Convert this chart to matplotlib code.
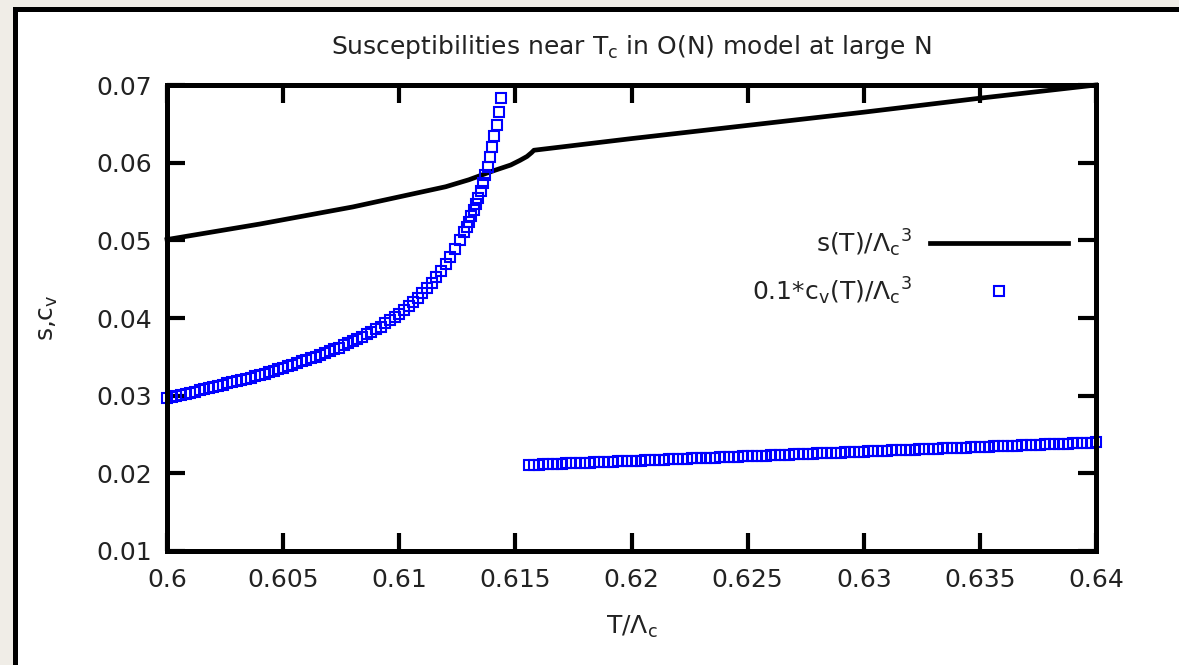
import matplotlib
matplotlib.use("Agg")
import matplotlib.pyplot as plt
from matplotlib.patches import Rectangle
from matplotlib.lines import Line2D

# s(T)/Lambda_c^3
s_T = [0.6000, 0.6020, 0.6040, 0.6060, 0.6080, 0.6100, 0.6120, 0.6130, 0.6140, 0.6148,
       0.6152, 0.6155, 0.6157, 0.6158, 0.6200, 0.6250, 0.6300, 0.6350, 0.6400]
s_val = [0.0501, 0.0511, 0.0521, 0.0532, 0.0543, 0.0556, 0.0569, 0.0578, 0.0589, 0.0597,
         0.0603, 0.0608, 0.0613, 0.0616, 0.0631, 0.0648, 0.0665, 0.0683, 0.0700]

# 0.1*c_v(T)/Lambda_c^3 below T_c
cv_low_T = [0.6000, 0.6002, 0.6004, 0.6006, 0.6008, 0.6010, 0.6012, 0.6014, 0.6016, 0.6018,
            0.6020, 0.6022, 0.6024, 0.6026, 0.6028, 0.6030, 0.6032, 0.6034, 0.6036, 0.6038,
            0.6040, 0.6042, 0.6044, 0.6046, 0.6048, 0.6050, 0.6052, 0.6054, 0.6056, 0.6058,
            0.6060, 0.6062, 0.6064, 0.6066, 0.6068, 0.6070, 0.6072, 0.6074, 0.6076, 0.6078,
            0.6080, 0.6082, 0.6084, 0.6086, 0.6088, 0.6090, 0.6092, 0.6094, 0.6096, 0.6098,
            0.6100, 0.6102, 0.6104, 0.6106, 0.6108, 0.6110, 0.6112, 0.6114, 0.6116, 0.6118,
            0.6120, 0.6122, 0.6124, 0.6126, 0.6128, 0.6129, 0.6130, 0.6131, 0.6132, 0.6133,
            0.6134, 0.6135, 0.6136, 0.6137, 0.6138, 0.6139, 0.6140, 0.6141, 0.6142, 0.6143,
            0.6144]
cv_low = [0.0297, 0.0298, 0.0300, 0.0301, 0.0302, 0.0304, 0.0305, 0.0307, 0.0308, 0.0310,
          0.0311, 0.0313, 0.0314, 0.0316, 0.0317, 0.0319, 0.0320, 0.0322, 0.0323, 0.0325,
          0.0327, 0.0328, 0.0330, 0.0332, 0.0334, 0.0336, 0.0338, 0.0340, 0.0342, 0.0344,
          0.0346, 0.0348, 0.0350, 0.0353, 0.0355, 0.0357, 0.0360, 0.0362, 0.0365, 0.0368,
          0.0370, 0.0373, 0.0376, 0.0379, 0.0382, 0.0386, 0.0389, 0.0393, 0.0397, 0.0401,
          0.0405, 0.0410, 0.0415, 0.0420, 0.0426, 0.0432, 0.0438, 0.0445, 0.0453, 0.0461,
          0.0470, 0.0479, 0.0489, 0.0500, 0.0511, 0.0517, 0.0524, 0.0531, 0.0539, 0.0547,
          0.0555, 0.0564, 0.0574, 0.0584, 0.0595, 0.0607, 0.0620, 0.0634, 0.0649, 0.0665,
          0.0683]

# 0.1*c_v(T)/Lambda_c^3 above T_c
cv_high_T = [0.6156, 0.6158,
             0.6160, 0.6162, 0.6164, 0.6166, 0.6168, 0.6170, 0.6172, 0.6174, 0.6176, 0.6178,
             0.6180, 0.6182, 0.6184, 0.6186, 0.6188, 0.6190, 0.6192, 0.6194, 0.6196, 0.6198,
             0.6200, 0.6202, 0.6204, 0.6206, 0.6208, 0.6210, 0.6212, 0.6214, 0.6216, 0.6218,
             0.6220, 0.6222, 0.6224, 0.6226, 0.6228, 0.6230, 0.6232, 0.6234, 0.6236, 0.6238,
             0.6240, 0.6242, 0.6244, 0.6246, 0.6248, 0.6250, 0.6252, 0.6254, 0.6256, 0.6258,
             0.6260, 0.6262, 0.6264, 0.6266, 0.6268, 0.6270, 0.6272, 0.6274, 0.6276, 0.6278,
             0.6280, 0.6282, 0.6284, 0.6286, 0.6288, 0.6290, 0.6292, 0.6294, 0.6296, 0.6298,
             0.6300, 0.6302, 0.6304, 0.6306, 0.6308, 0.6310, 0.6312, 0.6314, 0.6316, 0.6318,
             0.6320, 0.6322, 0.6324, 0.6326, 0.6328, 0.6330, 0.6332, 0.6334, 0.6336, 0.6338,
             0.6340, 0.6342, 0.6344, 0.6346, 0.6348, 0.6350, 0.6352, 0.6354, 0.6356, 0.6358,
             0.6360, 0.6362, 0.6364, 0.6366, 0.6368, 0.6370, 0.6372, 0.6374, 0.6376, 0.6378,
             0.6380, 0.6382, 0.6384, 0.6386, 0.6388, 0.6390, 0.6392, 0.6394, 0.6396, 0.6398,
             0.6400]
cv_high = [0.02108, 0.02110,
           0.02113, 0.02115, 0.02118, 0.02120, 0.02122, 0.02125, 0.02127, 0.02129, 0.02132, 0.02134,
           0.02137, 0.02139, 0.02141, 0.02144, 0.02146, 0.02149, 0.02151, 0.02153, 0.02156, 0.02158,
           0.02160, 0.02163, 0.02165, 0.02168, 0.02170, 0.02172, 0.02175, 0.02177, 0.02180, 0.02182,
           0.02184, 0.02187, 0.02189, 0.02191, 0.02194, 0.02196, 0.02199, 0.02201, 0.02203, 0.02206,
           0.02208, 0.02210, 0.02213, 0.02215, 0.02218, 0.02220, 0.02222, 0.02225, 0.02227, 0.02229,
           0.02232, 0.02234, 0.02237, 0.02239, 0.02241, 0.02244, 0.02246, 0.02248, 0.02251, 0.02253,
           0.02256, 0.02258, 0.02260, 0.02263, 0.02265, 0.02268, 0.02270, 0.02272, 0.02275, 0.02277,
           0.02279, 0.02282, 0.02284, 0.02287, 0.02289, 0.02291, 0.02294, 0.02296, 0.02298, 0.02301,
           0.02303, 0.02306, 0.02308, 0.02310, 0.02313, 0.02315, 0.02317, 0.02320, 0.02322, 0.02325,
           0.02327, 0.02329, 0.02332, 0.02334, 0.02337, 0.02339, 0.02341, 0.02344, 0.02346, 0.02348,
           0.02351, 0.02353, 0.02356, 0.02358, 0.02360, 0.02363, 0.02365, 0.02367, 0.02370, 0.02372,
           0.02375, 0.02377, 0.02379, 0.02382, 0.02384, 0.02387, 0.02389, 0.02391, 0.02394, 0.02396,
           0.02398]

x_ticks = [0.6, 0.605, 0.61, 0.615, 0.62, 0.625, 0.63, 0.635, 0.64]
x_labels = ["0.6", "0.605", "0.61", "0.615", "0.62", "0.625", "0.63", "0.635", "0.64"]
y_ticks = [0.01, 0.02, 0.03, 0.04, 0.05, 0.06, 0.07]
y_labels = ["0.01", "0.02", "0.03", "0.04", "0.05", "0.06", "0.07"]

plt.rcParams['font.family'] = ['DejaVu Sans']
plt.rcParams['mathtext.fontset'] = "dejavusans"
fs = 18
txt = "#222222"
blue = "#0000ff"
ms, mew = 6.6, 1.5

fig = plt.figure(figsize=(11.79, 6.65), dpi=100, facecolor="#f0ede7")
# white panel with black frame (runs off the right and bottom edges)
fig.add_artist(Rectangle((14.5 / 1179, -0.2), 1.2, 0.2 + 1 - 9 / 665, transform=fig.transFigure,
                         facecolor="white", edgecolor="black", lw=3.6, zorder=-5))

ax = fig.add_axes([167 / 1179, 1 - 551 / 665, (1096 - 167) / 1179, (551 - 85) / 665])
ax.set_facecolor("white")

ax.plot(s_T, s_val, color="black", lw=3.4, solid_joinstyle="round", zorder=2, clip_on=False)
ax.plot(cv_low_T, cv_low, ls="none", marker="s", ms=ms, mfc="none", mec=blue, mew=mew,
        zorder=3, clip_on=False)
ax.plot(cv_high_T, cv_high, ls="none", marker="s", ms=ms, mfc="none", mec=blue, mew=mew,
        zorder=3, clip_on=False)

ax.set_xlim(0.6, 0.64)
ax.set_ylim(0.01, 0.07)
ax.set_xticks(x_ticks)
ax.set_xticklabels(x_labels)
ax.set_yticks(y_ticks)
ax.set_yticklabels(y_labels)
ax.tick_params(direction="in", length=13, width=3, top=True, right=True, labelsize=fs,
               colors="black", labelcolor=txt)
ax.tick_params(axis="x", pad=12)
ax.tick_params(axis="y", pad=11)
for sp in ax.spines.values():
    sp.set_linewidth(3.6)
    sp.set_zorder(5)

ax.set_title(r"Susceptibilities near T$_{\mathregular{c}}$ in O(N) model at large N",
             fontsize=fs, pad=22, color=txt)
ax.set_xlabel(r"T/$\mathregular{\Lambda}_{\mathregular{c}}$", fontsize=fs, labelpad=16, color=txt)
ax.set_ylabel(r"s,c$_{\mathregular{v}}$", fontsize=fs, labelpad=26, color=txt)

# key, gnuplot style: right-aligned text with sample to the right
ax.text(0.802, 0.661, r"s(T)/$\mathregular{\Lambda}_{\mathregular{c}}{}^{\mathregular{3}}$",
        transform=ax.transAxes, ha="right", va="center", fontsize=fs, color=txt)
ax.add_line(Line2D([0.821, 0.970], [0.661, 0.661], transform=ax.transAxes, color="black", lw=3.4))
ax.text(0.802, 0.558,
        r"0.1*c$_{\mathregular{v}}$(T)/$\mathregular{\Lambda}_{\mathregular{c}}{}^{\mathregular{3}}$",
        transform=ax.transAxes, ha="right", va="center", fontsize=fs, color=txt)
ax.add_line(Line2D([0.896], [0.558], transform=ax.transAxes, ls="none", marker="s", ms=ms,
                   mfc="none", mec=blue, mew=mew))

fig.savefig("out.png", dpi=100, facecolor=fig.get_facecolor())
